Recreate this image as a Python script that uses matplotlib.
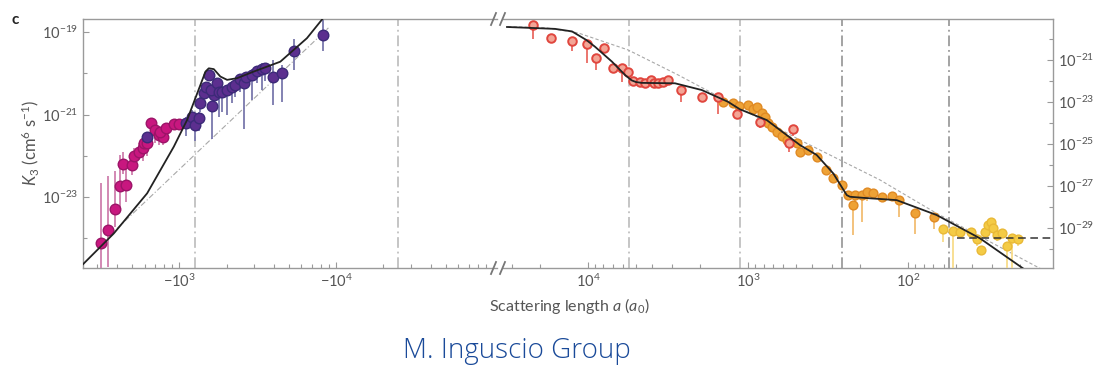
import numpy as np
import matplotlib
matplotlib.use("Agg")
import matplotlib.pyplot as plt
from matplotlib.ticker import FixedLocator, FuncFormatter, NullFormatter
from matplotlib.lines import Line2D

plt.rcParams['font.family'] = ['Lato', 'DejaVu Sans']
plt.rcParams['mathtext.fontset'] = 'custom'
plt.rcParams['mathtext.rm'] = 'Lato'
plt.rcParams['mathtext.it'] = 'Lato:italic'
plt.rcParams['mathtext.default'] = 'regular'

# ---------------- data (log10 values) ----------------
# negative scattering lengths: log10|a| (a0), log10 K3 (cm^6 s^-1)
neg_mag_la = [2.501, 2.546, 2.592, 2.620, 2.662, 2.637, 2.699, 2.709, 2.741, 2.769,
              2.773, 2.794, 2.820, 2.841, 2.868, 2.896, 2.879, 2.917, 2.964, 2.996]
neg_mag_lk = [-24.11, -23.80, -23.28, -22.73, -22.71, -22.20, -22.22, -22.00, -21.90, -21.82,
              -21.70, -21.70, -21.21, -21.38, -21.50, -21.55, -21.42, -21.33, -21.23, -21.23]
neg_mag_up = [1.45, 1.30, 0.90, 0.75, 0.50, 0.30, 0.25, 0.20, 0.20, 0.15,
              0.10, 0.10, 0.10, 0.10, 0.10, 0.10, 0.10, 0.10, 0.10, 0.10]
neg_mag_dn = [0.70, 0.90, 0.45, 0.50, 0.40, 0.25, 0.25, 0.20, 0.20, 0.30,
              0.20, 0.30, 0.25, 0.30, 0.25, 0.20, 0.20, 0.20, 0.10, 0.10]

neg_pur_la = [2.790, 3.045, 3.081, 3.100, 3.123, 3.134, 3.159, 3.172, 3.187, 3.208,
              3.219, 3.204, 3.240, 3.250, 3.272, 3.304, 3.336, 3.357, 3.384, 3.414,
              3.427, 3.463, 3.495, 3.527, 3.548, 3.597, 3.654, 3.728, 3.913]
neg_pur_lk = [-21.54, -21.21, -21.05, -21.25, -21.09, -20.73, -20.47, -20.33, -20.04, -20.79,
              -20.53, -20.41, -20.24, -20.45, -20.45, -20.41, -20.33, -20.28, -20.15, -20.24,
              -20.08, -20.04, -19.94, -19.90, -19.88, -20.08, -19.99, -19.46, -19.07]
neg_pur_up = [0.10, 0.15, 0.15, 0.20, 0.15, 0.15, 0.10, 0.10, 0.10, 0.10,
              0.10, 0.10, 0.10, 0.10, 0.15, 0.10, 0.10, 0.10, 0.10, 0.15,
              0.10, 0.15, 0.10, 0.15, 0.10, 0.40, 0.20, 0.30, 0.36]
neg_pur_dn = [0.10, 0.30, 0.30, 0.40, 0.30, 0.20, 0.15, 0.20, 0.10, 0.80,
              0.30, 0.20, 0.15, 0.60, 0.50, 0.60, 0.40, 0.30, 0.30, 1.10,
              0.30, 0.60, 0.30, 0.50, 0.30, 0.70, 0.70, 0.45, 0.40]

# positive scattering lengths
pos_red_la = [4.342, 4.231, 4.102, 4.008, 3.952, 3.898, 3.842, 3.786, 3.748, 3.717,
              3.675, 3.644, 3.606, 3.586, 3.561, 3.533, 3.502, 3.420, 3.289, 3.189,
              3.067, 2.925, 2.721, 2.742]
pos_red_lk = [-19.33, -19.94, -20.10, -20.25, -20.92, -20.41, -21.40, -21.40, -21.59, -22.00,
              -22.03, -22.11, -21.95, -22.11, -22.11, -22.03, -21.95, -22.43, -22.75, -22.75,
              -23.57, -23.94, -24.30, -24.97]
pos_red_dn = [0.65, 0.00, 0.47, 0.90, 0.56, 0.00, 0.00, 0.63, 0.00, 0.20,
              0.00, 0.00, 0.15, 0.20, 0.00, 0.00, 0.00, 0.58, 0.00, 0.84,
              0.00, 0.30, 0.30, 0.40]

pos_org_la = [3.154, 3.092, 3.054, 2.998, 2.967, 2.942, 2.914, 2.894, 2.873, 2.852,
              2.821, 2.789, 2.754, 2.696, 2.675, 2.623, 2.571, 2.510, 2.467, 2.414,
              2.373, 2.342, 2.331, 2.289, 2.258, 2.221, 2.164, 2.102, 2.054, 1.956,
              1.838]
pos_org_lk = [-22.98, -23.06, -23.19, -23.14, -23.35, -23.22, -23.54, -23.70, -23.98, -24.17,
              -24.41, -24.62, -24.81, -24.97, -25.37, -25.29, -25.63, -26.25, -26.63, -26.95,
              -27.43, -27.90, -27.43, -27.43, -27.30, -27.35, -27.51, -27.48, -27.67, -28.30,
              -28.46]
pos_org_dn = [0.10, 0.10, 0.10, 0.10, 0.15, 0.10, 0.10, 0.15, 0.10, 0.10,
              0.15, 0.10, 0.10, 0.10, 0.15, 0.10, 0.10, 0.10, 0.10, 0.10,
              0.20, 1.43, 0.60, 1.27, 0.40, 0.20, 0.10, 0.20, 0.80, 1.00,
              0.60]

pos_yel_la = [1.783, 1.717, 1.675, 1.608, 1.571, 1.546, 1.519, 1.498, 1.483, 1.467,
              1.446, 1.414, 1.383, 1.352, 1.311]
pos_yel_lk = [-29.06, -29.13, -29.17, -29.17, -29.54, -30.05, -29.17, -28.86, -28.70, -29.02,
              -29.33, -29.25, -29.86, -29.49, -29.54]
pos_yel_dn = [0.60, 1.80, 0.20, 0.20, 0.30, 0.20, 0.30, 0.20, 0.20, 0.20,
              0.30, 0.20, 1.10, 1.50, 0.30]

# theory curves
th_neg_la = [2.369, 2.582, 2.794, 2.964, 3.049, 3.113, 3.166, 3.187, 3.219, 3.261,
             3.304, 3.367, 3.473, 3.643, 3.813, 3.898, 3.93]
th_neg_lk = [-24.69, -23.88, -22.91, -21.78, -21.13, -20.49, -19.96, -19.88, -19.90, -20.08,
             -20.16, -20.12, -19.96, -19.72, -19.15, -18.75, -18.60]
a4_neg_la = [2.55, 3.95]
a4_neg_lk = [-23.95, -18.90]

th_pos_la = [4.506, 4.206, 4.10, 4.0625, 4.01, 3.956, 3.85, 3.769, 3.727, 3.70, 3.664, 3.456,
             3.289, 3.125, 3.05, 2.883, 2.675, 2.571, 2.467, 2.383, 2.3625, 2.281, 2.071,
             1.821, 1.55, 1.281]
th_pos_lk = [-19.43, -19.52, -19.64, -19.81, -20.05, -20.37, -21.08, -21.71, -21.97, -22.05,
             -22.09, -22.11, -22.43, -22.99, -23.35, -23.86, -25.05, -25.52, -26.40, -27.43,
             -27.51, -27.56, -27.67, -28.38, -29.49, -30.92]
a4_pos_la = [4.50, 4.269, 4.0625, 3.75, 3.4375, 3.225, 2.675, 2.175, 1.821, 1.175]
a4_pos_lk = [-19.41, -19.46, -19.71, -20.52, -21.71, -22.57, -24.81, -26.71, -28.30, -30.92]

# resonance / minimum positions (log10 a0)
vlines_neg = [3.102, 4.395]
vlines_pos = [3.744, 3.05, 2.4125, 1.744]
floor_level = -29.48
floor_start = 1.694

# ---------------- figure ----------------
W, H = 1095, 365
fig = plt.figure(figsize=(W / 100, H / 100), dpi=100)


def box(x0, y0, x1, y1):
    return [x0 / W, 1 - y1 / H, (x1 - x0) / W, (y1 - y0) / H]


axL = fig.add_axes(box(83, 19, 497, 268))
axR = fig.add_axes(box(503, 19, 1053, 268))

P = lambda v: 10 ** np.asarray(v, dtype=float)

for ax in (axL, axR):
    ax.set_xscale('log')
    ax.set_yscale('log')
    for s in ax.spines.values():
        s.set_color('#9a9a9a')
        s.set_linewidth(1.0)
    ax.tick_params(which='both', direction='in', colors='#9a9a9a',
                   labelcolor='#555555', labelsize=10.5)
    ax.tick_params(which='major', length=4.5, width=0.8)
    ax.tick_params(which='minor', length=3, width=0.8)

axL.set_xlim(P(2.385), P(5.025))
axL.set_ylim(P(-24.72), P(-18.685))
axR.set_xlim(P(4.531), P(1.094))
axR.set_ylim(P(-30.9), P(-19.05))

axL.spines['right'].set_visible(False)
axR.spines['left'].set_visible(False)
axR.yaxis.tick_right()
axR.tick_params(axis='y', which='both', left=False, right=True)

# ticks
axL.xaxis.set_major_locator(FixedLocator([1e3, 1e4]))
axL.xaxis.set_major_formatter(FuncFormatter(lambda v, _: r'$-10^{%d}$' % round(np.log10(v))))
axL.xaxis.set_minor_locator(FixedLocator([m * 10 ** e for e in (2, 3, 4) for m in range(2, 10)]))
axL.xaxis.set_minor_formatter(NullFormatter())
axL.yaxis.set_major_locator(FixedLocator([1e-19, 1e-21, 1e-23]))
axL.yaxis.set_minor_locator(FixedLocator([1e-20, 1e-22, 1e-24]))
axL.yaxis.set_major_formatter(FuncFormatter(lambda v, _: r'$10^{%d}$' % round(np.log10(v))))
axL.yaxis.set_minor_formatter(NullFormatter())

axR.xaxis.set_major_locator(FixedLocator([1e2, 1e3, 1e4]))
axR.xaxis.set_major_formatter(FuncFormatter(lambda v, _: r'$10^{%d}$' % round(np.log10(v))))
axR.xaxis.set_minor_locator(FixedLocator([m * 10 ** e for e in (1, 2, 3, 4) for m in range(2, 10)]))
axR.xaxis.set_minor_formatter(NullFormatter())
axR.yaxis.set_major_locator(FixedLocator([10.0 ** e for e in (-21, -23, -25, -27, -29)]))
axR.yaxis.set_minor_locator(FixedLocator([10.0 ** e for e in (-20, -22, -24, -26, -28, -30)]))
axR.yaxis.set_major_formatter(FuncFormatter(lambda v, _: r'$10^{%d}$' % round(np.log10(v))))
axR.yaxis.set_minor_formatter(NullFormatter())

# vertical reference lines
dashdot = (0, (7, 2.5, 1.2, 2.5))
for v in vlines_neg:
    axL.axvline(P(v), color='#b5b5b5', lw=1.1, ls=dashdot, zorder=1)
for i, v in enumerate(vlines_pos):
    axR.axvline(P(v), color='#b5b5b5' if i < 2 else '#8a8a8a', lw=1.1, ls=dashdot, zorder=1)

# theory curves
axL.plot(P(a4_neg_la), P(a4_neg_lk), color='#a8a8a8', lw=0.8, ls=(0, (5, 2, 1, 2)), zorder=2)
axL.plot(P(th_neg_la), P(th_neg_lk), color='#222222', lw=1.3, zorder=5)
axR.plot(P(a4_pos_la), P(a4_pos_lk), color='#a8a8a8', lw=0.8, ls=(0, (3, 2)), zorder=2)
axR.plot(P(th_pos_la), P(th_pos_lk), color='#222222', lw=1.3, zorder=5)
axR.plot([P(floor_start), P(1.094)], [P(floor_level)] * 2, color='#333333', lw=1.1,
         ls=(0, (5, 3)), zorder=5)


def series(ax, la, lk, dn, up, face, edge, bar, size, lw=1.0):
    a = P(la)
    k = P(lk)
    ax.vlines(a, k / P(dn), k * P(up), color=bar, lw=1.3, zorder=3)
    ax.scatter(a, k, s=size, facecolor=face, edgecolor=edge, linewidth=lw, zorder=4)


series(axL, neg_mag_la, neg_mag_lk, neg_mag_dn, neg_mag_up,
       '#c8177f', '#9c1468', '#cf7fae', 58)
series(axL, neg_pur_la, neg_pur_lk, neg_pur_dn, neg_pur_up,
       '#5c2f8f', '#3c2a78', '#7a78ad', 58)
series(axR, pos_org_la, pos_org_lk, pos_org_dn, [0.05] * len(pos_org_la),
       '#eea236', '#e08a24', '#f2bd72', 40)
series(axR, pos_red_la, pos_red_lk, pos_red_dn, [0.05] * len(pos_red_la),
       '#f3a596', '#e0463e', '#e96a62', 38, lw=1.4)
series(axR, pos_yel_la, pos_yel_lk, pos_yel_dn, [0.05] * len(pos_yel_la),
       '#f4cb45', '#e9b937', '#f8dc8a', 40)

# axis breaks
def brk(x, y):
    for dx in (0, 9):
        fig.add_artist(Line2D([(x + dx) / W, (x + dx + 5) / W],
                              [1 - (y + 6) / H, 1 - (y - 6) / H],
                              color='#777777', lw=1.3))


brk(491, 19)
brk(491, 268)

# labels
fig.text(12 / W, 1 - 20 / H, 'c', fontsize=11, fontweight='bold', va='center', color='#222222')
fig.text(569 / W, 1 - 306 / H, r'Scattering length $\mathit{a}$ ($\mathit{a}_{0}$)',
         fontsize=11.5, color='#555555', ha='center', va='center')
fig.text(30 / W, 1 - 143 / H, r'$\mathit{K}_{3}$ (cm$^{6}$ s$^{-1}$)', rotation=90,
         fontsize=12, color='#555555', ha='center', va='center')
fig.text(517 / W, 1 - 351 / H, 'M. Inguscio Group', fontsize=20, color='#1a4a99',
         family=['Open Sans', 'DejaVu Sans'], fontweight='light',
         ha='center', va='center')

fig.savefig('out.png', dpi=100)
